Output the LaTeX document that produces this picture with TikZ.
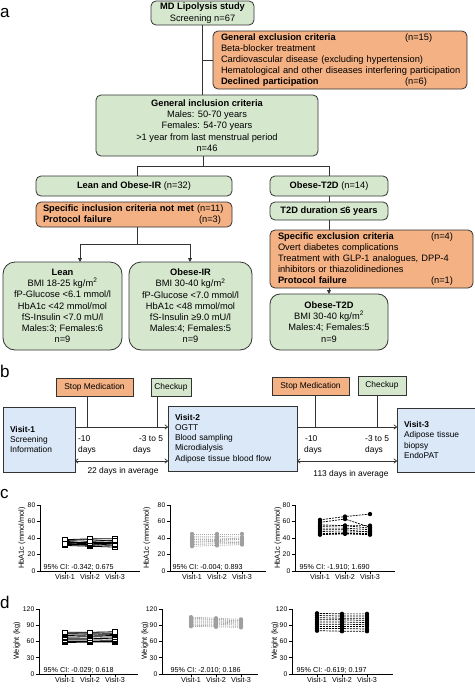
\documentclass[tikz,border=0pt]{standalone}
\usepackage{fontspec}
\setmainfont{Liberation Sans}
\usetikzlibrary{arrows.meta}
\definecolor{gfill}{HTML}{D5E8CE}
\definecolor{ofill}{HTML}{F4B183}
\definecolor{bfill}{HTML}{DAE8F8}
\definecolor{bord}{HTML}{333333}
\newcommand\mksq[2]{\draw[black,line width=0.7pt,fill=white] ({#1},{#2}) ++(-2.2pt,-2.2pt) rectangle ++(4.4pt,4.4pt);}
\newcommand\mkgr[2]{\fill[gray!75] ({#1},{#2}) circle[radius=2.1pt];}
\newcommand\mkbk[2]{\fill[black] ({#1},{#2}) circle[radius=2.2pt];}
\newcommand\plotaxes[8]{%
 \begin{scope}[shift={(#2,#3)},x=1pt,y=#4pt]
  \draw[axl] (0,#6) -- (0,0) -- (#7,0);
  \foreach \t in {#5} {\draw[axl] (-3.5,\t) -- (0,\t); \node[tickl,anchor=east] (#1t\t) at (-4,\t) {\t};}
  \foreach \i/\lab in {0/Visit-1,1/Visit-2,2/Visit-3} {\draw[axl] ({#8+25*\i},0) -- ({#8+25*\i},{-3/#4}); \node[visl,anchor=north] (#1v\i) at ({#8+25*\i},{-3/#4}) {\lab};}
 \end{scope}}
\newcommand\plotdata[7]{%
 \begin{scope}[shift={(#1,#2)},x=1pt,y=#3pt]
  \foreach \a/\b/\c in {#7} {\draw[#5] (#4,\a) -- ({#4+25},\b) -- ({#4+50},\c);}
  \foreach \a/\b/\c in {#7} {#6{#4}{\a}#6{#4+25}{\b}#6{#4+50}{\c}}
 \end{scope}}
\begin{document}
\begin{tikzpicture}[x=1pt,y=-1pt,
  font=\fontsize{9.3}{11.2}\selectfont,
  box/.style={draw=bord,line width=0.8pt,rounded corners=5pt,inner ysep=0pt,inner xsep=8pt,outer sep=0pt},
  gbox/.style={box,fill=gfill},
  obox/.style={box,fill=ofill},
  bbox/.style={draw=bord,line width=0.8pt,fill=bfill,inner ysep=0pt,inner xsep=7pt,outer sep=0pt,align=left,font=\fontsize{8.4}{10.3}\selectfont},
  sbox/.style={draw=bord,line width=0.8pt,inner sep=0pt,outer sep=0pt,font=\fontsize{8.4}{10.3}\selectfont},
  conn/.style={draw=bord,line width=0.8pt},
  arr/.style={conn,-{Triangle[length=4pt,width=4pt]}},
  oarr/.style={conn,line width=0.7pt,-{To[length=3.5pt,width=5pt]}},
  darr/.style={conn,line width=0.7pt,{To[length=3.5pt,width=5pt]}-{To[length=3.5pt,width=5pt]}},
  btxt/.style={inner sep=0pt,font=\fontsize{8.4}{10.3}\selectfont},
  plab/.style={inner sep=0pt,font=\fontsize{17}{17}\selectfont,anchor=base west},
  axl/.style={draw=black,line width=0.7pt},
  tickl/.style={font=\fontsize{6.8}{7}\selectfont,inner sep=0.5pt},
  visl/.style={font=\fontsize{7.2}{8}\selectfont,inner sep=0.5pt},
  ylab/.style={font=\fontsize{7.4}{8}\selectfont,inner sep=0pt},
  l1/.style={black,line width=0.8pt},
  l2/.style={gray!70,line width=0.7pt,dash pattern=on 1pt off 1pt},
  l3/.style={black,line width=0.7pt,dash pattern=on 2pt off 1pt}]
\useasboundingbox (0,0) rectangle (474,688);
% panel labels
\node[plab] (la) at (0,17) {a};
\node[plab] (lb) at (0,377) {b};
\node[plab] (lc) at (0,498) {c};
\node[plab] (ld) at (0,608) {d};
% ---------- panel a ----------
\node[gbox,minimum width=103pt,minimum height=24pt,align=center] (md) at (202.5,13) {\textbf{MD Lipolysis study}\\Screening n=67};
\node[obox,text width=238pt,minimum height=58pt,align=left] (excl) at (340,60) {\makebox[184pt][l]{\textbf{General exclusion criteria}}(n=15)\\Beta-blocker treatment\\Cardiovascular disease (excluding hypertension)\\\makebox[238pt][l]{Hematological and other diseases interfering participation}\\\makebox[184pt][l]{\textbf{Declined participation}}(n=6)};
\node[gbox,minimum width=222pt,minimum height=61pt,align=center] (gi) at (207,125.5) {\textbf{General inclusion criteria}\\Males: 50-70 years\\Females: 54-70 years\\>1 year from last menstrual period\\n=46};
\node[gbox,minimum width=196pt,minimum height=20pt] (loir) at (134,186) {\textbf{Lean and Obese-IR} (n=32)};
\node[obox,text width=182pt,inner xsep=7pt,minimum height=25pt,align=left] (sinc) at (134,214.5) {\makebox[154pt][l]{\textbf{Specific inclusion criteria not met}}(n=11)\\\makebox[156pt][l]{\textbf{Protocol failure}}(n=3)};
\node[gbox,rounded corners=12pt,minimum width=119pt,minimum height=88pt,align=center] (lean) at (62.5,306) {\textbf{Lean}\\BMI 18-25 kg/m\textsuperscript{2}\\fP-Glucose <6.1 mmol/l\\HbA1c <42 mmol/mol\\fS-Insulin <7.0 mU/l\\Males:3; Females:6\\n=9};
\node[gbox,rounded corners=12pt,minimum width=123pt,minimum height=88pt,align=center] (obir) at (190.5,306) {\textbf{Obese-IR}\\BMI 30-40 kg/m\textsuperscript{2}\\fP-Glucose <7.0 mmol/l\\HbA1c <48 mmol/mol\\fS-Insulin ≥9.0 mU/l\\Males:4; Females:5\\n=9};
\node[gbox,minimum width=118pt,minimum height=20pt] (t2d) at (329,186) {\textbf{Obese-T2D} (n=14)};
\node[gbox,minimum width=118pt,minimum height=18pt] (t2dd) at (329,211) {\textbf{T2D duration ≤6 years}};
\node[obox,text width=187pt,minimum height=58pt,align=left] (sexc) at (371.5,259) {\makebox[153pt][l]{\textbf{Specific exclusion criteria}}(n=4)\\Overt diabetes complications\\Treatment with GLP-1 analogues, DPP-4\\inhibitors or thiazolidinediones\\\makebox[153pt][l]{\textbf{Protocol failure}}(n=1)};
\node[gbox,rounded corners=10pt,minimum width=118pt,minimum height=56pt,align=center] (ot2d) at (329,322) {\textbf{Obese-T2D}\\BMI 30-40 kg/m\textsuperscript{2}\\Males:4; Females:5\\n=9};
% connectors a
\coordinate (j1) at (203,166);
\coordinate (j1L) at (137,166);
\coordinate (j1R) at (329,166);
\coordinate (j2) at (137,244);
\coordinate (j2L) at (80,244);
\coordinate (j2R) at (190,244);
\draw[conn] (md.south) -- (md.south |- gi.north);
\draw[conn] (md.south |- excl.west) -- (excl.west);
\draw[conn] (j1 |- gi.south) -- (j1);
\draw[conn] (j1L) -- (j1R);
\draw[conn] (j1L) -- (j1L |- loir.north);
\draw[conn] (j1R) -- (t2d.north);
\draw[conn] (t2d.south) -- (t2dd.north);
\draw[conn] (t2dd.south) -- (t2dd.south |- sexc.north);
\draw[arr] (ot2d.north |- sexc.south) -- (ot2d.north);
\draw[conn] (j2 |- sinc.south) -- (j2);
\draw[conn] (j2L) -- (j2R);
\draw[arr] (j2L) -- (j2L |- lean.north);
\draw[arr] (j2R) -- (j2R |- obir.north);
% ---------- panel b ----------
\node[sbox,fill=ofill,minimum width=77pt,minimum height=18pt] (stop1) at (94.5,387) {Stop Medication};
\node[sbox,fill=gfill,minimum width=40pt,minimum height=18pt] (chk1) at (171,387) {Checkup};
\node[sbox,fill=ofill,minimum width=77pt,minimum height=18pt] (stop2) at (310.5,386) {Stop Medication};
\node[sbox,fill=gfill,minimum width=48pt,minimum height=19pt] (chk2) at (382,385.5) {Checkup};
\node[bbox,text width=58pt,minimum height=65pt] (v1) at (39,439.5) {\textbf{Visit-1}\\Screening\\Information};
\node[bbox,text width=115pt,minimum height=65pt] (v2) at (232.5,438.5) {\textbf{Visit-2}\\OGTT\\Blood sampling\\Microdialysis\\Adipose tissue blood flow};
\node[bbox,text width=66pt,minimum height=64pt] (v3) at (437,440) {\textbf{Visit-3}\\Adipose tissue\\biopsy\\EndoPAT};
\coordinate (ta) at (0,427);
\coordinate (da) at (0,461);
\coordinate (s1) at (87,427);
\coordinate (c1) at (157,427);
\coordinate (s2) at (315,427);
\coordinate (c2) at (377,427);
\draw[oarr] (v1.east |- ta) -- (v2.west |- ta);
\draw[oarr] (v2.east |- ta) -- (v3.west |- ta);
\draw[conn,line width=0.7pt] (s1 |- stop1.south) -- (s1);
\draw[conn,line width=0.7pt] (c1 |- chk1.south) -- (c1);
\draw[conn,line width=0.7pt] (s2 |- stop2.south) -- (s2);
\draw[conn,line width=0.7pt] (c2 |- chk2.south) -- (c2);
\draw[darr] (v1.east |- da) -- (v2.west |- da);
\draw[darr] (v2.east |- da) -- (v3.west |- da);
\node[btxt,anchor=base west] (m10a) at (78,441) {-10};
\node[btxt,anchor=base west] (d10a) at (78,452) {days};
\node[btxt,anchor=base west] (m35a) at (139,441) {-3 to 5};
\node[btxt,anchor=base west] (d35a) at (133,452) {days};
\node[btxt,anchor=base west] (m10b) at (305,441) {-10};
\node[btxt,anchor=base west] (d10b) at (304,452) {days};
\node[btxt,anchor=base west] (m35b) at (365,441) {-3 to 5};
\node[btxt,anchor=base west] (d35b) at (365,452) {days};
\node[btxt] (avg1) at (123,471) {22 days in average};
\node[btxt] (avg2) at (351,474) {113 days in average};
% ---------- panel c ----------
\plotaxes{ca}{40}{571}{0.825}{0,20,...,80}{80}{100}{25}
\plotaxes{cb}{170}{571}{0.825}{0,20,...,80}{80}{96}{22}
\plotaxes{cc}{295}{571}{0.825}{0,20,...,80}{80}{100}{25}
\plotdata{40}{571}{0.825}{25}{l1}{\mksq}{31/30/29,32/32/31,33/31/33,34/33/34,35/35/35,36/34/33,37/38/36,38/39/39,33/36/37}
\plotdata{170}{571}{0.825}{22}{l2}{\mkgr}{30/31/32,32/33/33,34/34/35,35/36/34,36/37/36,38/38/38,40/40/39,42/42/41,45/45/45}
\plotdata{295}{571}{0.825}{25}{l3}{\mkbk}{44/45/44,46/46/46,48/47/48,50/50/47,52/52/50,54/55/52,56/55/55,59/63/53,62/66/69}
\node[ylab,rotate=90] (cay) at (22,538) {HbA1c (mmol/mol)};
\node[ylab,rotate=90] (cby) at (147,538) {HbA1c (mmol/mol)};
\node[ylab,rotate=90] (ccy) at (278,538) {HbA1c (mmol/mol)};
\node[visl,anchor=base west] (caci) at (43,569) {95\% CI: -0.342; 0.675};
\node[visl,anchor=base west] (cbci) at (172,569) {95\% CI: -0.004; 0.893};
\node[visl,anchor=base west] (ccci) at (299,569) {95\% CI: -1.910; 1.690};
% ---------- panel d ----------
\plotaxes{da}{39}{674}{0.5417}{0,30,...,120}{120}{99}{26}
\plotaxes{db}{162}{674}{0.5417}{0,30,...,120}{120}{96}{29}
\plotaxes{dc}{292}{674}{0.5417}{0,30,...,120}{120}{101}{25}
\plotdata{39}{674}{0.5417}{26}{l1}{\mksq}{58/59/59,60/60/60,63/63/62,66/66/65,68/69/68,71/72/71,74/74/73,75/76/75,77/77/78}
\plotdata{162}{674}{0.5417}{29}{l2}{\mkgr}{88/87/86,90/89/88,92/92/90,94/94/92,96/96/94,98/98/96,100/100/98,103/101/99,105/103/101}
\plotdata{292}{674}{0.5417}{25}{l3}{\mkbk}{80/79/79,84/84/83,88/88/88,92/92/91,96/96/95,100/100/99,104/103/103,108/107/107,112/111/111}
\node[ylab,rotate=90] (day) at (17,641) {Weight (kg)};
\node[ylab,rotate=90] (dby) at (145,641) {Weight (kg)};
\node[ylab,rotate=90] (dcy) at (275,641) {Weight (kg)};
\node[visl,anchor=base west] (daci) at (43,672) {95\% CI: -0.029; 0.618};
\node[visl,anchor=base west] (dbci) at (170,672) {95\% CI: -2.010; 0.186};
\node[visl,anchor=base west] (dcci) at (296,672) {95\% CI: -0.619; 0.197};
\end{tikzpicture}
\end{document}
